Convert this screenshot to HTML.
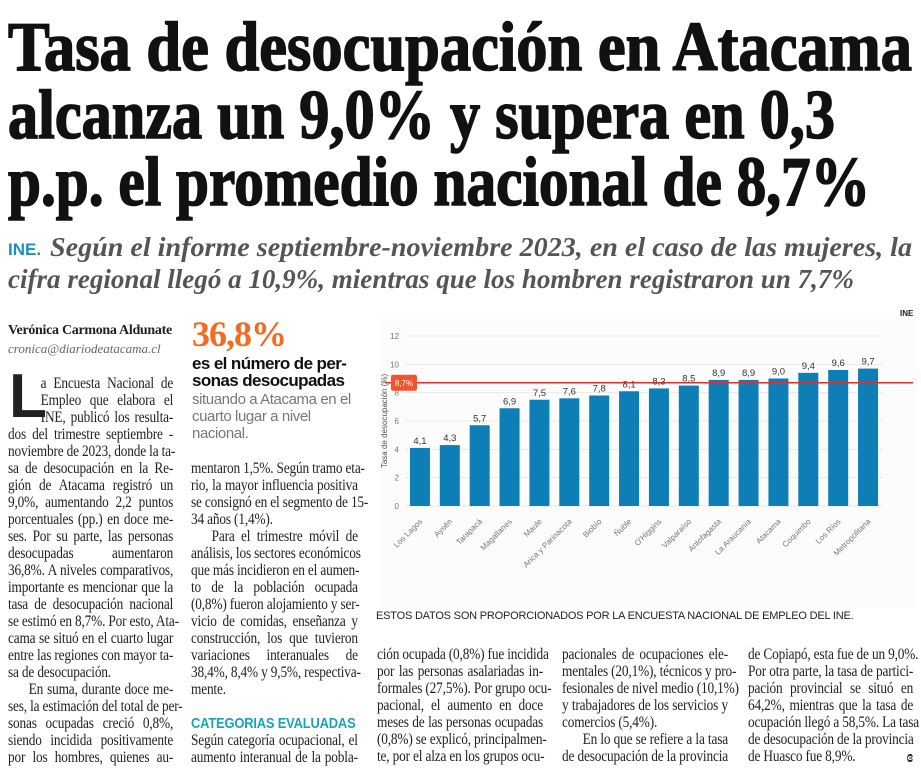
<!DOCTYPE html>
<html><head><meta charset="utf-8">
<style>
body{margin:0;width:921px;height:777px;background:#fff;position:relative;overflow:hidden;font-family:"Liberation Serif",serif;color:#222}
.abs{position:absolute}
.col{transform:scaleX(0.86);transform-origin:0 0}
.col div{height:17px;line-height:17px;font-size:15.5px;letter-spacing:-0.2px;text-align:justify;text-align-last:justify;white-space:nowrap;overflow:visible}
.col div.e{text-align-last:left}
.col div.i{text-indent:24px}
</style></head><body>
<svg class="abs" style="left:0;top:0" width="921" height="300">
<g font-family="Liberation Serif, serif" font-weight="bold" fill="#111" stroke="#111" stroke-width="1.6" font-size="70">
<text x="8" y="70" textLength="904" lengthAdjust="spacingAndGlyphs">Tasa de desocupación en Atacama</text>
<text x="8" y="138" textLength="827" lengthAdjust="spacingAndGlyphs">alcanza un 9,0% y supera en 0,3</text>
<text x="8" y="205" textLength="862" lengthAdjust="spacingAndGlyphs">p.p. el promedio nacional de 8,7%</text>
</g>
<text x="8" y="255" font-family="Liberation Sans, sans-serif" font-weight="bold" font-size="17" fill="#1a8fc4">INE.</text>
<g font-family="Liberation Serif, serif" font-weight="bold" font-style="italic" font-size="27" fill="#555">
<text x="50" y="256" textLength="862" lengthAdjust="spacingAndGlyphs">Según el informe septiembre-noviembre 2023, en el caso de las mujeres, la</text>
<text x="8" y="288" textLength="846" lengthAdjust="spacingAndGlyphs">cifra regional llegó a 10,9%, mientras que los hombren registraron un 7,7%</text>
</g>
</svg>

<div class="abs" style="left:8px;top:323px;font-size:14px;font-weight:bold;letter-spacing:-0.3px">Verónica Carmona Aldunate</div>
<div class="abs" style="left:8px;top:341px;font-size:13px;font-style:italic;color:#666">cronica@diariodeatacama.cl</div>

<div class="abs" style="left:192px;top:313px;font-size:36px;font-weight:bold;color:#f26b21;letter-spacing:-1px">36,8%</div>
<div class="abs" style="left:192px;top:355px;font-family:'Liberation Sans',sans-serif;font-weight:bold;font-size:17px;line-height:17px;letter-spacing:-0.6px;color:#111">es el número de per-<br>sonas desocupadas</div>
<div class="abs" style="left:192px;top:391px;font-family:'Liberation Sans',sans-serif;font-size:15px;line-height:17px;letter-spacing:-0.4px;color:#777">situando a Atacama en el<br>cuarto lugar a nivel<br>nacional.</div>

<div class="abs" style="left:9px;top:366px;font-size:62px;font-weight:bold;line-height:62px;font-family:'Liberation Sans',sans-serif">L</div>
<div class="abs col" style="left:8px;top:375px;width:192px">
<div style="margin-left:38px">a Encuesta Nacional de</div>
<div style="margin-left:38px">Empleo que elabora el</div>
<div style="margin-left:38px">INE, publicó los resulta-</div>
<div>dos del trimestre septiembre -</div>
<div>noviembre de 2023, donde la ta-</div>
<div>sa de desocupación en la Re-</div>
<div>gión de Atacama registró un</div>
<div>9,0%, aumentando 2,2 puntos</div>
<div>porcentuales (pp.) en doce me-</div>
<div>ses. Por su parte, las personas</div>
<div>desocupadas aumentaron</div>
<div>36,8%. A niveles comparativos,</div>
<div>importante es mencionar que la</div>
<div>tasa de desocupación nacional</div>
<div>se estimó en 8,7%. Por esto, Ata-</div>
<div>cama se situó en el cuarto lugar</div>
<div>entre las regiones con mayor ta-</div>
<div class="e">sa de desocupación.</div>
<div class="i">En suma, durante doce me-</div>
<div>ses, la estimación del total de per-</div>
<div>sonas ocupadas creció 0,8%,</div>
<div>siendo incidida positivamente</div>
<div>por los hombres, quienes au-</div>
</div>

<div class="abs col" style="left:191px;top:460px;width:194px">
<div>mentaron 1,5%. Según tramo eta-</div>
<div>rio, la mayor influencia positiva</div>
<div>se consignó en el segmento de 15-</div>
<div class="e">34 años (1,4%).</div>
<div class="i">Para el trimestre móvil de</div>
<div>análisis, los sectores económicos</div>
<div>que más incidieron en el aumen-</div>
<div>to de la población ocupada</div>
<div>(0,8%) fueron alojamiento y ser-</div>
<div>vicio de comidas, enseñanza y</div>
<div>construcción, los que tuvieron</div>
<div>variaciones interanuales de</div>
<div>38,4%, 8,4% y 9,5%, respectiva-</div>
<div class="e">mente.</div>
<div class="e"></div>
<div class="e" style="font-family:'Liberation Sans',sans-serif;font-weight:bold;font-size:15px;color:#1aa3b8;letter-spacing:-0.2px">CATEGORIAS EVALUADAS</div>
<div>Según categoría ocupacional, el</div>
<div>aumento interanual de la pobla-</div>
</div>

<div class="abs" style="left:900px;top:309px;font-family:'Liberation Sans',sans-serif;font-size:8px;font-weight:bold">INE</div>
<svg id="chart" class="abs" style="left:378px;top:318px" width="540" height="290"></svg>
<div class="abs" style="left:376px;top:610px;font-family:'Liberation Sans',sans-serif;font-size:11px;letter-spacing:-0.2px;color:#222">ESTOS DATOS SON PROPORCIONADOS POR LA ENCUESTA NACIONAL DE EMPLEO DEL INE.</div>

<div class="abs col" style="left:377px;top:646px;width:193px">
<div>ción ocupada (0,8%) fue incidida</div>
<div>por las personas asalariadas in-</div>
<div>formales (27,5%). Por grupo ocu-</div>
<div>pacional, el aumento en doce</div>
<div>meses de las personas ocupadas</div>
<div>(0,8%) se explicó, principalmen-</div>
<div>te, por el alza en los grupos ocu-</div>
</div>
<div class="abs col" style="left:562px;top:646px;width:193px">
<div>pacionales de ocupaciones ele-</div>
<div>mentales (20,1%), técnicos y pro-</div>
<div>fesionales de nivel medio (10,1%)</div>
<div>y trabajadores de los servicios y</div>
<div class="e">comercios (5,4%).</div>
<div class="i">En lo que se refiere a la tasa</div>
<div>de desocupación de la provincia</div>
</div>
<div class="abs col" style="left:748px;top:646px;width:192px">
<div>de Copiapó, esta fue de un 9,0%.</div>
<div>Por otra parte, la tasa de partici-</div>
<div>pación provincial se situó en</div>
<div>64,2%, mientras que la tasa de</div>
<div>ocupación llegó a 58,5%. La tasa</div>
<div>de desocupación de la provincia</div>
<div class="e">de Huasco fue 8,9%.<span style="float:right;font-size:17px;font-weight:bold">ɞ</span></div>
</div>

<script>
const categories=["Los Lagos","Aysén","Tarapacá","Magallanes","Maule","Arica y Parinacota","Biobío","Ñuble","O'Higgins","Valparaíso","Antofagasta","La Araucanía","Atacama","Coquimbo","Los Ríos","Metropolitana"];
const values=[4.1,4.3,5.7,6.9,7.5,7.6,7.8,8.1,8.3,8.5,8.9,8.9,9.0,9.4,9.6,9.7];
const valueLabels=["4,1","4,3","5,7","6,9","7,5","7,6","7,8","8,1","8,3","8,5","8,9","8,9","9,0","9,4","9,6","9,7"];
const yTicks=[0,2,4,6,8,10,12];
const nationalAvg=8.7;
const nationalLabel="8,7%";
const NS="http://www.w3.org/2000/svg";
const svg=document.getElementById('chart');
const X0=27,X1=505,Y0=188,Y1=18,YMAX=12;
const y=v=>Y0-(v/YMAX)*(Y0-Y1);
const step=(X1-X0)/categories.length;
const xc=i=>X0+step*(i+0.5);
function mk(t,a){const e=document.createElementNS(NS,t);for(const k in a)e.setAttribute(k,a[k]);svg.appendChild(e);return e;}
const bg=mk('rect',{x:0,y:0,width:540,height:290,fill:'#fcfcfc'});


yTicks.forEach(t=>{
  const g=mk('line',{x1:X0,x2:X1,y1:y(t),y2:y(t),stroke:'#e8e8e8','stroke-width':1});
  
  
  const l=mk('text',{x:X0-6,y:y(t)+3,'text-anchor':'end','font-size':8,fill:'#777','font-family':'Liberation Sans, sans-serif'});
  l.textContent=t;
  
  
});
const yt=mk('text',{x:9,y:(Y0+Y1)/2,transform:`rotate(-90 9 ${(Y0+Y1)/2})`,'text-anchor':'middle','font-size':8,fill:'#555','font-family':'Liberation Sans, sans-serif'});
yt.textContent='Tasa de desocupación (%)';


const bw=20;
categories.forEach((c,i)=>{
  const b=mk('rect',{x:xc(i)-bw/2,y:y(values[i]),width:bw,height:Y0-y(values[i]),fill:'#0d7fb6'});
  
  
  const v=mk('text',{x:xc(i),y:y(values[i])-4,'text-anchor':'middle','font-size':9.5,fill:'#333','font-family':'Liberation Sans, sans-serif'});
  v.textContent=valueLabels[i];
  
  
  const lx=xc(i)+3,ly=Y0+16;
  const t=mk('text',{x:lx,y:ly,transform:`rotate(-45 ${lx} ${ly})`,'text-anchor':'end','font-size':8,fill:'#777','font-family':'Liberation Sans, sans-serif'});
  t.textContent=c;
  
  
});
const rl=mk('line',{x1:X0-20,x2:X1+30,y1:y(nationalAvg),y2:y(nationalAvg),stroke:'#e0302a','stroke-width':1.5});


const rb=mk('rect',{x:X0-14,y:y(nationalAvg)-8,width:26,height:16,rx:2,fill:'#f2552c'});


const rt=mk('text',{x:X0-1,y:y(nationalAvg)+3,'text-anchor':'middle','font-size':8,fill:'#fff','font-family':'Liberation Sans, sans-serif'});
rt.textContent=nationalLabel;


</script>
</body></html>
